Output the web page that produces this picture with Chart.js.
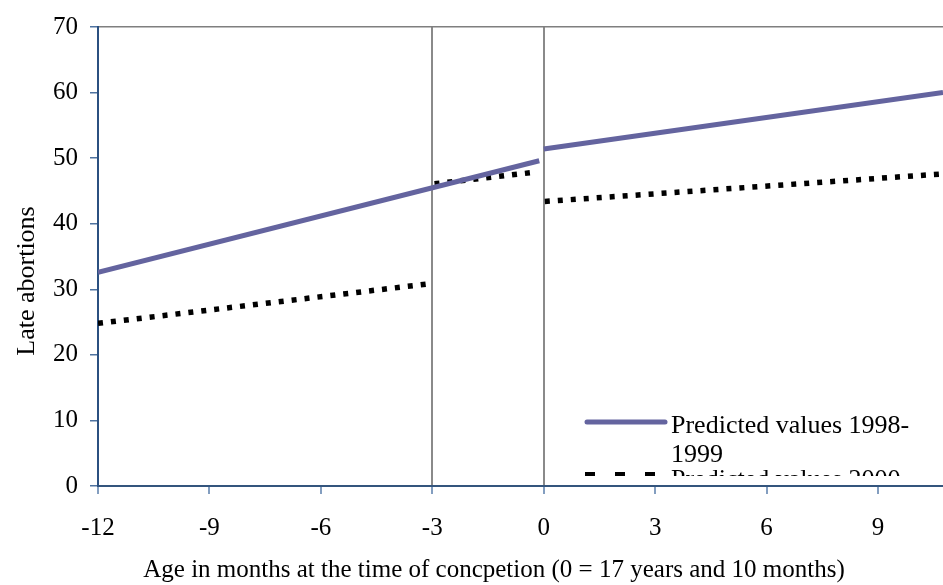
<!DOCTYPE html>
<html>
<head>
<meta charset="utf-8">
<script src="https://cdn.jsdelivr.net/npm/chart.js@4/dist/chart.umd.min.js"></script>
<style>
  html, body { margin: 0; padding: 0; background: #ffffff; }
  canvas { display: block; }
</style>
</head>
<body>
<canvas id="chart" width="943" height="585"></canvas>
<script>
// Month ticks on the horizontal axis (0 = 17 years and 10 months)
const monthTicks = [-12, -9, -6, -3, 0, 3, 6, 9];
const monthMin = -12;
const monthMax = 10.75;
const reformMonths = [-3, 0];

// Predicted late abortions, 1998-1999 (two fitted segments)
const pred9899BeforeX = [-12, -0.12];
const pred9899BeforeY = [32.6, 49.6];
const pred9899AfterX = [0, 10.75];
const pred9899AfterY = [51.4, 60.0];

// Predicted late abortions, 2000 (three fitted segments)
const pred2000FirstX = [-12, -3.0];
const pred2000FirstY = [24.8, 30.9];
const pred2000MiddleX = [-2.94, -0.32];
const pred2000MiddleY = [46.1, 47.8];
const pred2000LastX = [0.03, 10.75];
const pred2000LastY = [43.4, 47.6];

const legendLabels = ['Predicted values 1998-', '1999', 'Predicted values 2000'];
const yTitle = 'Late abortions';
const xTitle = 'Age in months at the time of concpetion (0 = 17 years and 10 months)';

const SERIF = "'Liberation Serif', 'Times New Roman', serif";
const PURPLE = '#64649f';

function points(xs, ys) {
  return xs.map((x, i) => ({ x: x, y: ys[i] }));
}

function solidSet(xs, ys) {
  return {
    data: points(xs, ys),
    borderColor: PURPLE,
    borderWidth: 5,
    pointRadius: 0,
    borderCapStyle: 'butt',
    fill: false
  };
}

function dottedSet(xs, ys) {
  return {
    data: points(xs, ys),
    borderColor: '#000000',
    borderWidth: 5.5,
    borderDash: [5, 8],
    pointRadius: 0,
    borderCapStyle: 'butt',
    fill: false
  };
}

// Axis titles and the legend box, drawn over the plot
const decorations = {
  id: 'decorations',
  afterDraw(chart) {
    const ctx = chart.ctx;
    ctx.save();
    ctx.fillStyle = '#000000';

    // y-axis title
    ctx.save();
    ctx.translate(27, 281);
    ctx.rotate(-Math.PI / 2);
    ctx.font = '26px ' + SERIF;
    ctx.textAlign = 'center';
    ctx.textBaseline = 'middle';
    ctx.fillText(yTitle, 0, 0);
    ctx.restore();

    // x-axis title
    ctx.font = '25px ' + SERIF;
    ctx.textAlign = 'center';
    ctx.textBaseline = 'alphabetic';
    ctx.fillText(xTitle, 494, 577);

    // legend, cut off by the box bottom
    ctx.save();
    ctx.beginPath();
    ctx.rect(560, 390, 383, 86);
    ctx.clip();

    ctx.strokeStyle = PURPLE;
    ctx.lineWidth = 5;
    ctx.lineCap = 'round';
    ctx.beginPath();
    ctx.moveTo(587, 422);
    ctx.lineTo(665, 422);
    ctx.stroke();

    ctx.strokeStyle = '#000000';
    ctx.lineWidth = 4;
    ctx.lineCap = 'butt';
    ctx.setLineDash([10, 20]);
    ctx.beginPath();
    ctx.moveTo(585, 474);
    ctx.lineTo(660, 474);
    ctx.stroke();
    ctx.setLineDash([]);

    ctx.font = '26px ' + SERIF;
    ctx.textAlign = 'left';
    ctx.textBaseline = 'alphabetic';
    ctx.fillText(legendLabels[0], 671, 433);
    ctx.fillText(legendLabels[1], 671, 462);
    ctx.fillText(legendLabels[2], 671, 487);
    ctx.restore();

    ctx.restore();
  }
};

new Chart(document.getElementById('chart'), {
  type: 'line',
  data: {
    datasets: [
      solidSet(pred9899BeforeX, pred9899BeforeY),
      solidSet(pred9899AfterX, pred9899AfterY),
      dottedSet(pred2000FirstX, pred2000FirstY),
      dottedSet(pred2000MiddleX, pred2000MiddleY),
      dottedSet(pred2000LastX, pred2000LastY)
    ]
  },
  options: {
    responsive: false,
    devicePixelRatio: 1,
    animation: false,
    layout: { padding: { top: 26, right: 0, left: 0, bottom: 0 } },
    plugins: {
      legend: { display: false },
      tooltip: { enabled: false },
      title: { display: false }
    },
    scales: {
      x: {
        type: 'linear',
        min: monthMin,
        max: monthMax,
        afterBuildTicks(axis) {
          axis.ticks = monthTicks.map(v => ({ value: v }));
        },
        afterFit(axis) { axis.height = 99; },
        border: { display: true, color: '#34557d', width: 2 },
        grid: {
          drawOnChartArea: true,
          drawTicks: true,
          tickLength: 8,
          lineWidth: 2,
          color: c => (c.tick && reformMonths.includes(c.tick.value)) ? '#8a8a8a' : 'rgba(0,0,0,0)',
          tickColor: '#5a7eab',
          tickWidth: 1.5
        },
        ticks: {
          color: '#000000',
          font: { family: SERIF, size: 25 },
          padding: 19,
          maxRotation: 0,
          autoSkip: false
        }
      },
      y: {
        type: 'linear',
        min: 0,
        max: 70,
        afterFit(axis) { axis.width = 98; },
        border: { display: true, color: '#2b5080', width: 2 },
        grid: {
          drawOnChartArea: true,
          drawTicks: true,
          tickLength: 8,
          lineWidth: 1.5,
          color: c => (c.tick && c.tick.value === 70) ? '#7f7f7f' : 'rgba(0,0,0,0)',
          tickColor: '#4f73a0',
          tickWidth: 1.5
        },
        ticks: {
          stepSize: 10,
          color: '#000000',
          font: { family: SERIF, size: 25 },
          padding: 12
        }
      }
    }
  },
  plugins: [decorations]
});
</script>
</body>
</html>
